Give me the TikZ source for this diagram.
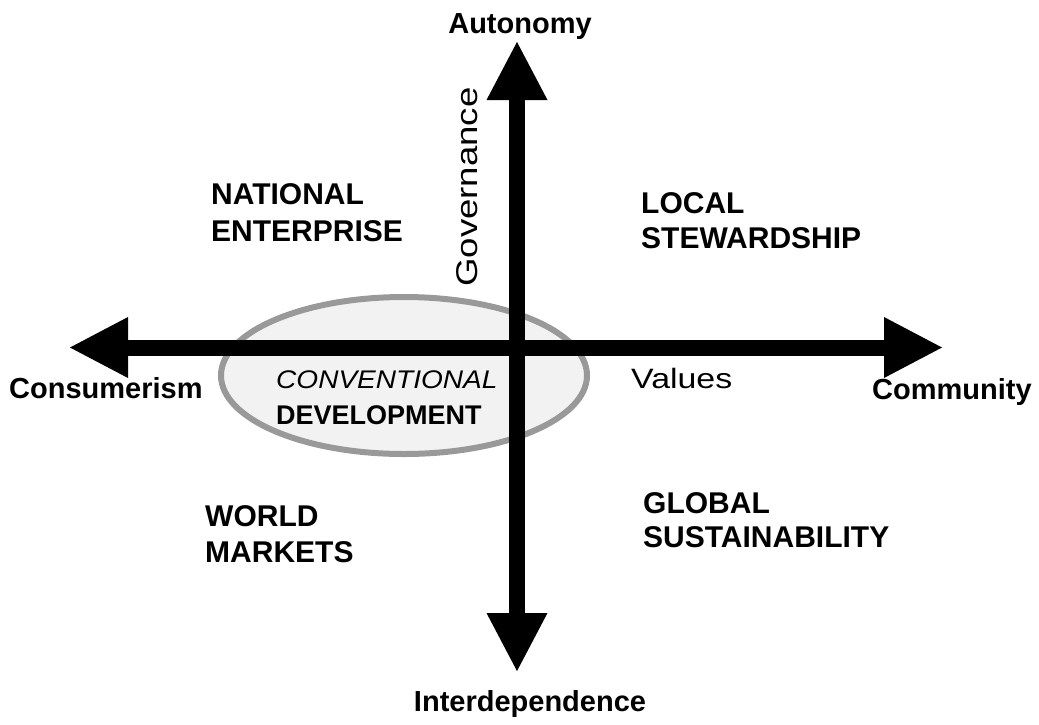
\documentclass[tikz,border=0pt]{standalone}
\usepackage{fontspec}
\setmainfont{Liberation Sans}
\usetikzlibrary{arrows.meta,shapes.geometric}
\definecolor{ringgray}{HTML}{999999}
\definecolor{ringfill}{HTML}{F2F2F2}
\tikzset{
  axisline/.style={line width=16pt, >={Triangle[length=58pt,width=61pt,line width=0pt]}, <->},
  boldlbl/.style={font=\fontsize{30}{30}\selectfont\bfseries, inner sep=0pt, anchor=base west},
  axislbl/.style={font=\fontsize{29}{29}\selectfont\bfseries, inner sep=0pt, anchor=base},
  plainlbl/.style={font=\fontsize{28}{28}\selectfont, inner sep=0pt, anchor=base west},
  ring/.style={draw=ringgray, fill=ringfill, line width=6pt, ellipse, inner sep=0pt,
    minimum width=366pt, minimum height=157pt}
}
\begin{document}
\begin{tikzpicture}[x=1pt,y=-1pt]
\useasboundingbox (0,0) rectangle (1039,724);
% ellipse behind the axes
\node[ring] (conv) at (404,375.5) {};
% axis end points
\coordinate (top) at (517,42);
\coordinate (bottom) at (517,671);
\coordinate (left) at (70,347.5);
\coordinate (right) at (942,347.5);
\draw[axisline] (left) -- (right);
\draw[axisline] (bottom) -- (top);
% axis labels
\node[axislbl] (auto) at (520,33) {Autonomy};
\node[axislbl] (inter) at (530,711) {Interdependence};
\node[boldlbl, font=\fontsize{29}{29}\selectfont\bfseries] (cons) at (9,398) {Consumerism};
\node[boldlbl, font=\fontsize{29}{29}\selectfont\bfseries] (comm) at (872,399) {Community};
\node[plainlbl, font=\fontsize{30}{30}\selectfont, rotate=90] (gov) at (477,287) {\scalebox{1.22}[1]{Governance}};
\node[plainlbl] (val) at (631,388) {\scalebox{1.21}[1]{Values}};
% quadrant labels
\node[boldlbl] (nat1) at (211,204) {NATIONAL};
\node[boldlbl] (nat2) at (211,241) {ENTERPRISE};
\node[boldlbl] (loc1) at (641,213) {LOCAL};
\node[boldlbl] (loc2) at (641,248) {STEWARDSHIP};
\node[boldlbl] (wor1) at (205,526) {WORLD};
\node[boldlbl] (wor2) at (205,562) {MARKETS};
\node[boldlbl] (glo1) at (643,513) {GLOBAL};
\node[boldlbl] (glo2) at (643,547) {SUSTAINABILITY};
% ellipse text
\node[plainlbl, font=\fontsize{25.5}{25.5}\selectfont\itshape] (convA) at (276,388) {\scalebox{1.1}[1]{CONVENTIONAL}};
\node[boldlbl, font=\fontsize{27}{27}\selectfont\bfseries] (convB) at (276,424) {DEVELOPMENT};
\end{tikzpicture}
\end{document}
